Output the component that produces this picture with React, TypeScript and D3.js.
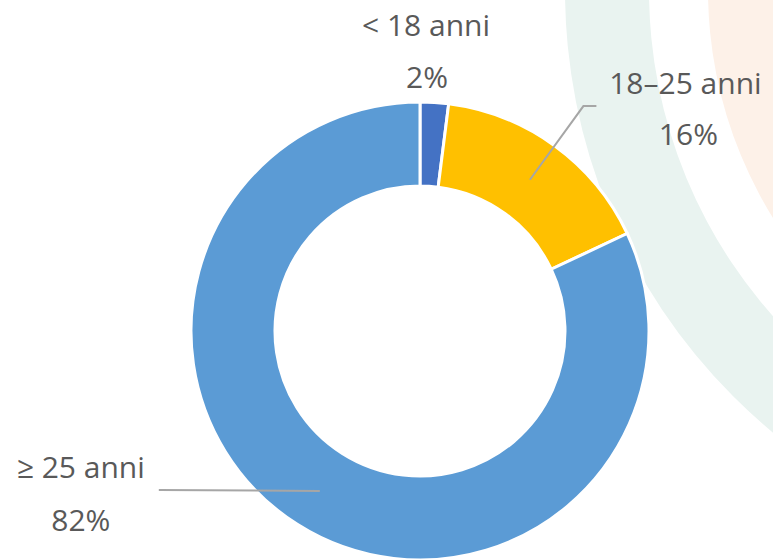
import React, { useEffect, useRef } from 'react';
import * as d3 from 'd3';

const categories = ['< 18 anni', '18–25 anni', '≥ 25 anni'];
const shares = [2, 16, 82];
const sliceColors = ['#4472C4', '#FFC000', '#5B9BD5'];

const W = 773;
const H = 560;

const App = () => {
  const svgRef = useRef<SVGSVGElement>(null);

  useEffect(() => {
    const svg = d3.select(svgRef.current);
    svg.selectAll('*').remove();

    const cx = 420;
    const cy = 331;
    const outerR = 229;
    const innerR = 145;

    // decorative background bands (top right)
    const bg = svg.append('g').attr('transform', 'translate(1140,-10)');
    bg.append('path')
      .attr('d', d3.arc()({ innerRadius: 300, outerRadius: 432, startAngle: Math.PI, endAngle: Math.PI * 2 }) as string)
      .attr('fill', '#fdf1e8');
    bg.append('path')
      .attr('d', d3.arc()({ innerRadius: 491, outerRadius: 575, startAngle: Math.PI, endAngle: Math.PI * 2 }) as string)
      .attr('fill', '#e9f3f0');

    const data = categories.map((c, i) => ({ name: c, value: shares[i], color: sliceColors[i] }));
    const pie = d3.pie<any>().sort(null).value(d => d.value);
    const arcs = pie(data);
    const arc = d3.arc<any>().innerRadius(innerR).outerRadius(outerR);

    const g = svg.append('g').attr('transform', `translate(${cx},${cy})`);
    g.selectAll('path.slice')
      .data(arcs)
      .enter()
      .append('path')
      .attr('class', 'slice')
      .attr('d', arc)
      .attr('fill', d => d.data.color)
      .attr('stroke', '#fff')
      .attr('stroke-width', 3);

    const polar = (a: number, r: number) => [cx + r * Math.sin(a), cy - r * Math.cos(a)];
    const font = "'Open Sans', sans-serif";
    const txt = (x: number, y: number, s: string) =>
      svg.append('text')
        .attr('x', x)
        .attr('y', y)
        .attr('text-anchor', 'middle')
        .style('font-family', font)
        .style('font-size', '30px')
        .attr('fill', '#595959')
        .text(s);

    const leader = (pts: number[][]) =>
      svg.append('path')
        .attr('d', d3.line()(pts as [number, number][]))
        .attr('fill', 'none')
        .attr('stroke', '#a6a6a6')
        .attr('stroke-width', 2);

    arcs.forEach((a, i) => {
      const mid = (a.startAngle + a.endAngle) / 2;
      const [mx, my] = arc.centroid(a);
      const c = [cx + mx, cy + my];
      const pct = `${a.data.value}%`;
      if (i === 0) {
        txt(cx + 6, cy - outerR - 66, a.data.name);
        txt(cx + 7, cy - outerR - 14, pct);
      } else if (i === 1) {
        const e = polar(mid, 278);
        leader([c, e, [e[0] + 13, e[1]]]);
        txt(e[0] + 102, e[1] - 12, a.data.name);
        txt(e[0] + 105, e[1] + 39, pct);
      } else {
        const end = [c[0] - 161, c[1] + 1];
        leader([[c[0], c[1] + 2], end]);
        txt(end[0] - 78, c[1] - 11, a.data.name);
        txt(end[0] - 78, c[1] + 42, pct);
      }
    });
  }, []);

  return (
    <svg
      ref={svgRef}
      width={W}
      height={H}
      style={{ position: 'absolute', left: 0, top: 0, background: '#fff' }}
    />
  );
};

export default App;
